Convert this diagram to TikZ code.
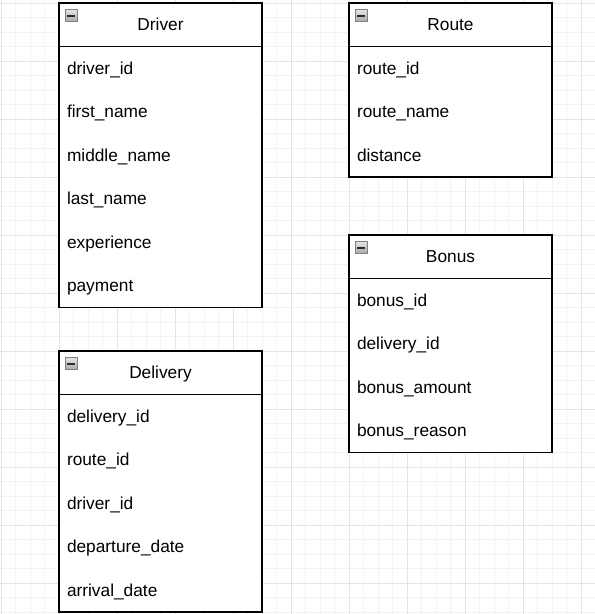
\documentclass[tikz,border=0pt]{standalone}
\usepackage{fontspec}
\setmainfont{Liberation Sans}
\usetikzlibrary{positioning}
\definecolor{grid-minor}{HTML}{F3F3F3}
\definecolor{grid-major}{HTML}{E4E4E4}
\definecolor{icon-edge}{HTML}{808080}
\definecolor{icon-top}{HTML}{E6E6E6}
\definecolor{icon-bottom}{HTML}{A8A8A8}
\definecolor{icon-bar}{HTML}{2A2A2A}
\newcommand\entityfont{\fontsize{17.3}{20}\selectfont}

\tikzset{
  entity head/.style={draw, fill=white, line width=1.45pt, minimum width=203pt,
    minimum height=43.5pt, inner sep=0pt, outer sep=0pt, anchor=north west,
    font=\entityfont, text height=15.7pt, text depth=3.7pt},
  field/.style={fill=white, text width=187pt, inner xsep=8pt, inner ysep=0pt,
    outer sep=0pt, minimum height=43.5pt, align=left, font=\entityfont,
    text height=15.7pt, text depth=3.7pt},
  entity frame/.style={draw, line width=1.45pt},
  collapse icon/.style={draw=icon-edge, line width=0.9pt, top color=icon-top,
    bottom color=icon-bottom, minimum size=12pt, inner sep=0pt, outer sep=0pt,
    anchor=north west,
    path picture={\draw[icon-bar, line width=2pt]
      ([xshift=2.4pt]path picture bounding box.west) --
      ([xshift=-2.4pt]path picture bounding box.east);}},
  grid line/.style={line width=1pt, color=grid-minor},
  grid major/.style={line width=1pt, color=grid-major}
}

\begin{document}
\begin{tikzpicture}[x=1pt, y=-1pt]
  \useasboundingbox (0,0) rectangle (595,614);
  \begin{scope}
    \clip (0,0) rectangle (595,614);
    \foreach \i in {0,...,41} \draw[grid line] ({1+14.5*\i},0) -- ({1+14.5*\i},614);
    \foreach \j in {0,...,42} \draw[grid line] (0,{3+14.5*\j}) -- (595,{3+14.5*\j});
    \foreach \i in {0,...,10} \draw[grid major] ({1+58*\i},0) -- ({1+58*\i},614);
    \foreach \j in {0,...,10} \draw[grid major] (0,{3+58*\j}) -- (595,{3+58*\j});
  \end{scope}

  % Driver
  \node[entity head, alias=drv-0] (drv) at (59,3) {Driver};
  \foreach \fld [count=\k, remember=\k as \prev (initially 0)] in
      {driver\_id, first\_name, middle\_name, last\_name, experience, payment}
    \node[field, below=0pt of drv-\prev] (drv-\k) {\fld};
  \draw[entity frame] (drv.south west) rectangle (drv-6.south east);
  \node[collapse icon] (drv-icon) at ([shift={(6pt,-6.5pt)}]drv.north west) {};

  % Route
  \node[entity head, alias=rte-0] (rte) at (349,3) {Route};
  \foreach \fld [count=\k, remember=\k as \prev (initially 0)] in
      {route\_id, route\_name, distance}
    \node[field, below=0pt of rte-\prev] (rte-\k) {\fld};
  \draw[entity frame] (rte.south west) rectangle (rte-3.south east);
  \node[collapse icon] (rte-icon) at ([shift={(6pt,-6.5pt)}]rte.north west) {};

  % Bonus
  \node[entity head, alias=bon-0] (bon) at (349,235) {Bonus};
  \foreach \fld [count=\k, remember=\k as \prev (initially 0)] in
      {bonus\_id, delivery\_id, bonus\_amount, bonus\_reason}
    \node[field, below=0pt of bon-\prev] (bon-\k) {\fld};
  \draw[entity frame] (bon.south west) rectangle (bon-4.south east);
  \node[collapse icon] (bon-icon) at ([shift={(6pt,-6.5pt)}]bon.north west) {};

  % Delivery
  \node[entity head, alias=dlv-0] (dlv) at (59,351) {Delivery};
  \foreach \fld [count=\k, remember=\k as \prev (initially 0)] in
      {delivery\_id, route\_id, driver\_id, departure\_date, arrival\_date}
    \node[field, below=0pt of dlv-\prev] (dlv-\k) {\fld};
  \draw[entity frame] (dlv.south west) rectangle (dlv-5.south east);
  \node[collapse icon] (dlv-icon) at ([shift={(6pt,-6.5pt)}]dlv.north west) {};
\end{tikzpicture}
\end{document}
